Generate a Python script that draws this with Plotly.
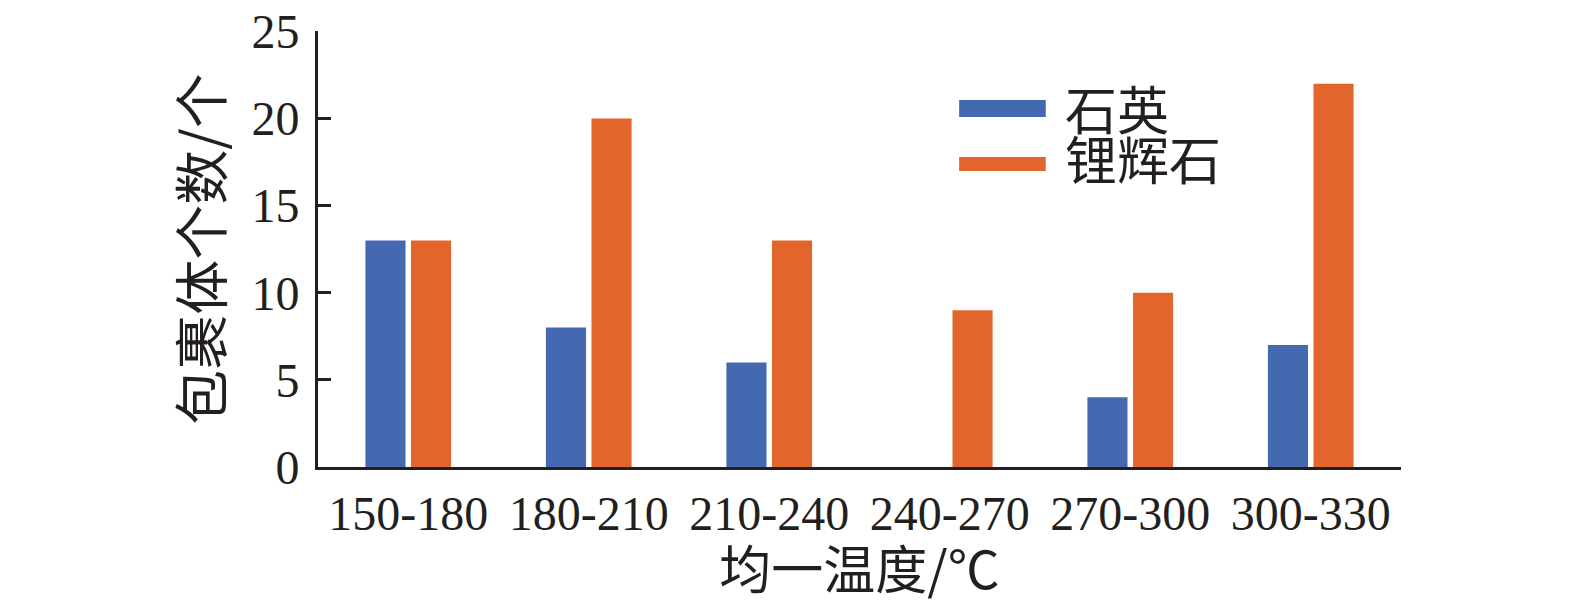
import plotly.graph_objects as go

categories = ["150-180", "180-210", "210-240", "240-270", "270-300", "300-330"]
quartz = [13, 8, 6, 0, 4, 7]
spodumene = [13, 20, 13, 9, 10, 22]
series_names = ["石英", "锂辉石"]
y_ticks = [0, 5, 10, 15, 20, 25]

BLUE = "#4469B0"
ORANGE = "#E2652B"
AXIS = "#231F20"
TXT = "#231F20"
SERIF = "Liberation Serif, Times New Roman, serif"
CJK = "Noto Sans CJK SC, sans-serif"

fig = go.Figure()
fig.add_trace(go.Bar(x=categories, y=quartz, name=series_names[0],
                     marker=dict(color=BLUE, line=dict(width=0))))
fig.add_trace(go.Bar(x=categories, y=spodumene, name=series_names[1],
                     marker=dict(color=ORANGE, line=dict(width=0))))

# legend drawn as swatches + labels (wide flat swatches as in the reference)
legend_items = [
    (series_names[0], BLUE, 0.803, 0.842, 0.824),
    (series_names[1], ORANGE, 0.679, 0.711, 0.710),
]
for name, color, y0, y1, yt in legend_items:
    fig.add_shape(type="rect", xref="paper", yref="paper",
                  x0=0.592, x1=0.672, y0=y0, y1=y1,
                  fillcolor=color, line=dict(width=0))
    fig.add_annotation(text=name, xref="paper", yref="paper", x=0.688, y=yt,
                       xanchor="left", yanchor="middle", showarrow=False,
                       font=dict(family=CJK, size=52, color=TXT))

fig.update_layout(
    width=1559, height=596,
    margin=dict(l=310, r=166, t=23, b=137, autoexpand=False),
    paper_bgcolor="white", plot_bgcolor="white",
    barmode="group", bargap=0.495, bargroupgap=0.12,
    font=dict(family=SERIF, color=TXT, size=48),
    showlegend=False,
)
fig.update_xaxes(
    type="category", categoryorder="array", categoryarray=categories,
    showline=True, linecolor=AXIS, linewidth=3, ticks="", showgrid=False,
    zeroline=False, automargin=False,
    tickfont=dict(family=SERIF, size=48, color=TXT),
    ticklabelstandoff=2,
    title=dict(text="均一温度/℃", font=dict(family=CJK, size=52, color=TXT), standoff=3),
)
fig.update_yaxes(
    range=[0, 25.02], tickvals=y_ticks, ticktext=[str(v) for v in y_ticks],
    showline=True, linecolor=AXIS, linewidth=3, ticks="inside", ticklen=13,
    tickwidth=3, tickcolor=AXIS, showgrid=False, zeroline=False, automargin=False,
    tickfont=dict(family=SERIF, size=48, color=TXT),
    ticklabelstandoff=6, ticklabeloverflow="allow",
    title=dict(text="包裹体个数/个", font=dict(family=CJK, size=55, color=TXT), standoff=12),
)

fig.write_html("out.html")
